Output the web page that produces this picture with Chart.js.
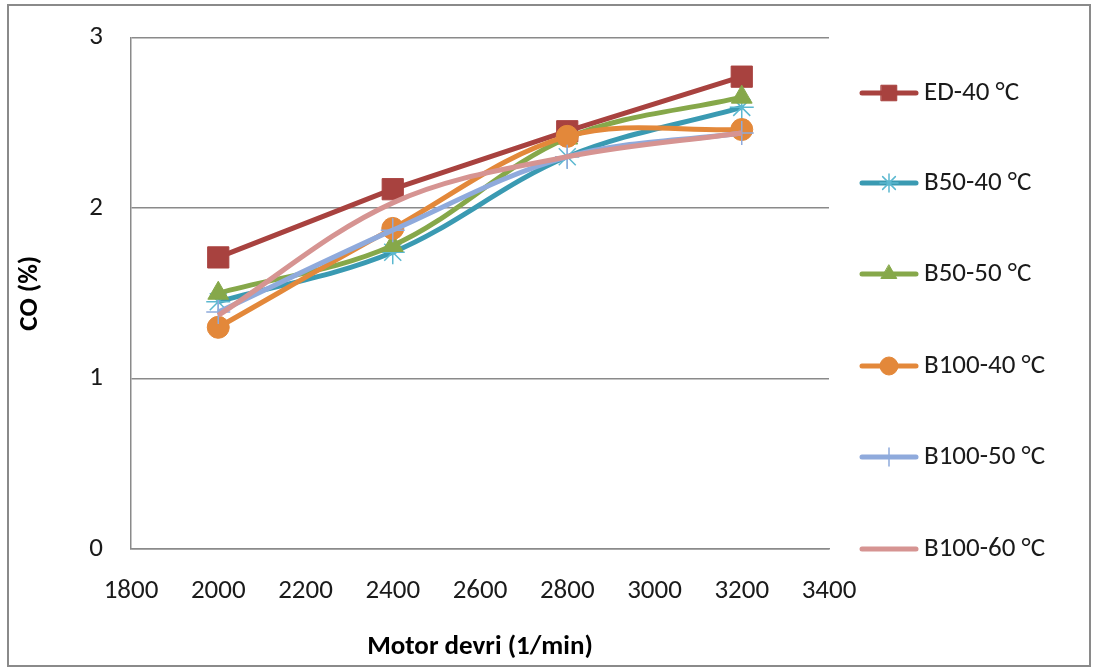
<!DOCTYPE html>
<html>
<head>
<meta charset="utf-8">
<script src="https://cdn.jsdelivr.net/npm/chart.js@4"></script>
<style>
  html, body { margin: 0; padding: 0; background: #fff; }
  #wrap { position: relative; width: 1097px; height: 671px; }
</style>
</head>
<body>
<div id="wrap"><canvas id="co-chart" width="1097" height="671"></canvas></div>
<script>
// motor speed (1/min)
const rpm = [2000, 2400, 2800, 3200];
// CO (%) per fuel / temperature
const ed40 = [1.71, 2.11, 2.45, 2.77];
const b50_40 = [1.45, 1.74, 2.30, 2.59];
const b50_50 = [1.50, 1.78, 2.41, 2.65];
const b100_40 = [1.30, 1.88, 2.42, 2.46];
const b100_50 = [1.39, 1.87, 2.30, 2.44];
const b100_60 = [1.37, 2.03, 2.30, 2.44];
const seriesNames = ['ED-40 °C', 'B50-40 °C', 'B50-50 °C', 'B100-40 °C', 'B100-50 °C', 'B100-60 °C'];

const FONT = "Carlito, Calibri, 'Open Sans', sans-serif";

const styles = [
    { color: '#A8423F', point: 'rect', radius: 15, pbw: 1, tension: 0 },
    { color: '#3A9AB2', point: 'star', radius: 12, pbw: 1.5, tension: 0.35 },
    { color: '#86A84A', point: 'triangle', radius: 12, pbw: 1, tension: 0.35 },
    { color: '#E3883A', point: 'circle', radius: 11, pbw: 1, tension: 0.35 },
    { color: '#8FAADC', point: 'cross', radius: 12, pbw: 1.5, tension: 0.35 },
    { color: '#D69492', point: false, radius: 0, pbw: 0, tension: 0.35 }
];

function toPoints(values) {
    return rpm.map((r, i) => ({ x: r, y: values[i] }));
}

const allSeries = [ed40, b50_40, b50_50, b100_40, b100_50, b100_60];

const datasets = allSeries.map((vals, i) => {
    const s = styles[i];
    return {
        label: seriesNames[i],
        data: toPoints(vals),
        borderColor: s.color,
        backgroundColor: s.color,
        borderWidth: 5,
        pointStyle: s.point,
        pointRadius: s.radius,
        pointBorderWidth: s.pbw,
        pointBackgroundColor: s.color,
        pointBorderColor: s.point === 'star' ? '#5BB8D0' : s.color,
        tension: s.tension,
        order: allSeries.length - i // later series drawn on top, like the original
    };
});

// frame + legend drawn by hand (line with marker, like the source)
const framePlugin = {
    id: 'frame',
    beforeDraw(chart) {
        const ctx = chart.ctx;
        ctx.save();
        ctx.fillStyle = '#fff';
        ctx.fillRect(0, 0, chart.width, chart.height);
        ctx.strokeStyle = '#8a8a8a';
        ctx.lineWidth = 2;
        ctx.strokeRect(8, 5, 1082, 661);
        ctx.restore();
    },
    afterDraw(chart) {
        const ctx = chart.ctx;
        const ys = [93, 183, 274, 366, 457, 549];
        ctx.save();
        seriesNames.forEach((name, i) => {
            const s = styles[i];
            const y = ys[i];
            ctx.strokeStyle = s.color;
            ctx.lineWidth = 5;
            ctx.lineCap = 'round';
            ctx.beginPath();
            ctx.moveTo(862, y);
            ctx.lineTo(916, y);
            ctx.stroke();
            if (s.point && Chart.helpers && Chart.helpers.drawPoint) {
                ctx.fillStyle = s.color;
                ctx.strokeStyle = datasets[i].pointBorderColor;
                ctx.lineWidth = s.pbw;
                Chart.helpers.drawPoint(ctx, {
                    pointStyle: s.point,
                    radius: s.point === 'rect' ? 11 : 9,
                    rotation: 0,
                    borderWidth: s.pbw
                }, 889, y);
            }
            ctx.fillStyle = '#1a1a1a';
            ctx.font = '27px ' + FONT;
            ctx.textBaseline = 'middle';
            ctx.textAlign = 'left';
            ctx.fillText(name, 924, y);
        });
        ctx.restore();
    }
};

const ctx = document.getElementById('co-chart').getContext('2d');
new Chart(ctx, {
    type: 'line',
    data: { datasets: datasets },
    options: {
        responsive: false,
        animation: false,
        layout: { padding: { top: 20, right: 268, left: 0, bottom: 0 } },
        plugins: {
            legend: { display: false },
            tooltip: { enabled: false }
        },
        scales: {
            x: {
                type: 'linear',
                min: 1800,
                max: 3400,
                ticks: {
                    stepSize: 200,
                    padding: 26,
                    color: '#1a1a1a',
                    font: { family: FONT, size: 27 },
                    callback: v => String(v)
                },
                grid: { drawOnChartArea: false, drawTicks: false },
                border: { display: true, color: '#8a8a8a', width: 1.5 },
                title: {
                    display: true,
                    text: 'Motor devri (1/min)',
                    color: '#000',
                    font: { family: FONT, size: 27, weight: 'bold' },
                    padding: { top: 0, bottom: 8 }
                },
                afterFit: s => { s.height = 122; }
            },
            y: {
                min: 0,
                max: 3,
                ticks: {
                    stepSize: 1,
                    padding: 28,
                    color: '#1a1a1a',
                    font: { family: FONT, size: 27, lineHeight: 0.7 }
                },
                grid: { color: '#8a8a8a', lineWidth: 1.5, drawTicks: false },
                border: { display: true, color: '#8a8a8a', width: 1.5 },
                title: {
                    display: true,
                    text: 'CO (%)',
                    color: '#000',
                    font: { family: FONT, size: 27, weight: 'bold' },
                    padding: { top: 14, bottom: 0 }
                },
                afterFit: s => { s.width = 131; }
            }
        }
    },
    plugins: [framePlugin]
});
</script>
</body>
</html>
